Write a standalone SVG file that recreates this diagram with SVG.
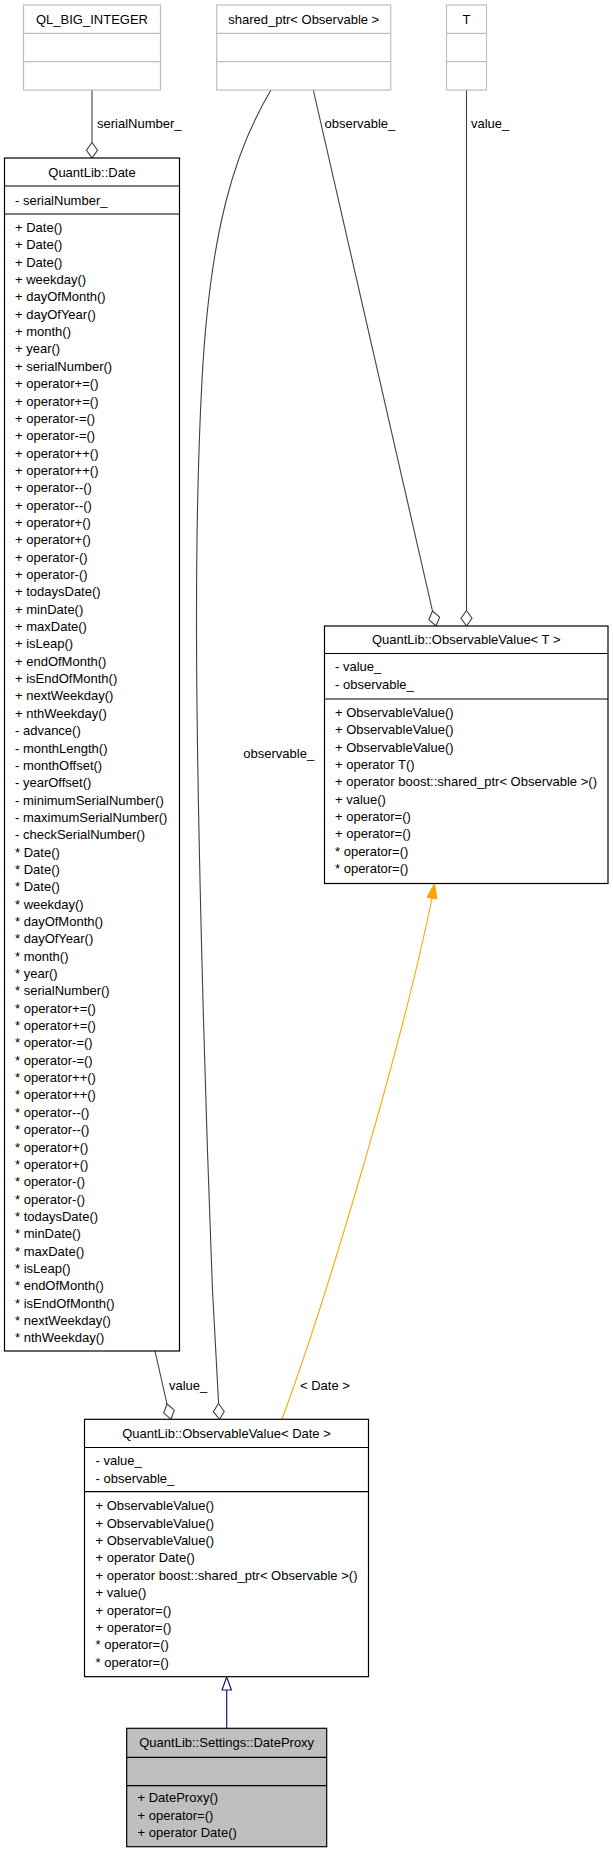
<svg xmlns="http://www.w3.org/2000/svg" width="613" height="1853" viewBox="0 0 613 1853">
<style>
.t{font-family:"Liberation Sans",Arial,Helvetica,sans-serif;font-size:13px;fill:#000}
.c{text-anchor:middle}
.bx{fill:#fff;stroke:#000;stroke-width:1.2}
.gx{fill:#fff;stroke:#bfbfbf;stroke-width:1.2}
.px{fill:#bfbfbf;stroke:#000;stroke-width:1.2}
.sl{stroke:#000;stroke-width:1.2}
.gl{stroke:#bfbfbf;stroke-width:1.2}
.e{fill:none;stroke:#404040;stroke-width:1.1}
.d{fill:#fff;stroke:#404040;stroke-width:1.1}
.o{fill:none;stroke:#ffa500;stroke-width:1.1}
.oa{fill:#ffa500;stroke:#ffa500;stroke-width:1}
.n{fill:none;stroke:#191970;stroke-width:1.2}
.na{fill:#fff;stroke:#191970;stroke-width:1.2}
</style>
<rect width="613" height="1853" fill="#fff"/>

<g id="edges">
  <!-- QL_BIG_INTEGER -> Date -->
  <line class="e" x1="92" y1="90" x2="92" y2="142.5"/>
  <polygon class="d" points="92,142.5 97.5,150.3 92,158 86.5,150.3"/>
  <text class="t" x="97" y="128">serialNumber_</text>
  <!-- shared_ptr -> ObservableValue<T> -->
  <line class="e" x1="313.3" y1="90" x2="432.5" y2="611"/>
  <polygon class="d" points="432.5,611 439.6,617.2 436,626 428.9,619.7"/>
  <text class="t" x="324.5" y="128">observable_</text>
  <!-- T -> ObservableValue<T> -->
  <line class="e" x1="466.5" y1="90" x2="466.5" y2="610.5"/>
  <polygon class="d" points="466.5,610.5 472,618.2 466.5,626 461,618.2"/>
  <text class="t" x="471" y="128">value_</text>
  <!-- shared_ptr -> ObservableValue<Date> -->
  <path class="e" d="M271,90 C235,150 210,230 202,380 C194,530 196,700 200,880 C204,1060 209,1200 212.5,1290 L218.6,1403.5"/>
  <polygon class="d" points="218.6,1403.5 224.2,1411.5 219.5,1419.3 213.3,1411.6"/>
  <text class="t" x="243.3" y="758">observable_</text>
  <!-- Date -> ObservableValue<Date> -->
  <line class="e" x1="155" y1="1351" x2="167" y2="1404"/>
  <polygon class="d" points="167,1404 174.3,1410.1 171,1419.3 163.7,1412.9"/>
  <text class="t" x="169" y="1389.5">value_</text>
  <!-- ObservableValue<T> -> ObservableValue<Date> (template instance) -->
  <path class="o" d="M282,1419.3 C326,1300 401,1050 432,898"/>
  <polygon class="oa" points="434.5,883.5 436.9,898.9 427.1,897.2"/>
  <text class="t" x="300" y="1389.5">&lt; Date &gt;</text>
  <!-- ObservableValue<Date> -> DateProxy (inheritance) -->
  <line class="n" x1="226.7" y1="1690" x2="226.7" y2="1728.3"/>
  <polygon class="na" points="226.7,1677 231.4,1690 222,1690"/>
</g>

<g id="node-ql-big-integer">
  <rect class="gx" x="23.5" y="5" width="137" height="85"/>
  <line class="gl" x1="23.5" y1="33.3" x2="160.5" y2="33.3"/>
  <line class="gl" x1="23.5" y1="61.7" x2="160.5" y2="61.7"/>
  <text class="t c" x="92" y="23.7">QL_BIG_INTEGER</text>
</g>

<g id="node-shared-ptr">
  <rect class="gx" x="216.7" y="5" width="174" height="85"/>
  <line class="gl" x1="216.7" y1="33.3" x2="390.7" y2="33.3"/>
  <line class="gl" x1="216.7" y1="61.7" x2="390.7" y2="61.7"/>
  <text class="t c" x="303.7" y="23.7">shared_ptr&lt; Observable &gt;</text>
</g>

<g id="node-t">
  <rect class="gx" x="446.5" y="5" width="40" height="85"/>
  <line class="gl" x1="446.5" y1="33.3" x2="486.5" y2="33.3"/>
  <line class="gl" x1="446.5" y1="61.7" x2="486.5" y2="61.7"/>
  <text class="t c" x="466.5" y="23.7">T</text>
</g>

<g id="node-date">
  <rect class="bx" x="4.5" y="158" width="175" height="1193"/>
  <line class="sl" x1="4.5" y1="186" x2="179.5" y2="186"/>
  <line class="sl" x1="4.5" y1="214" x2="179.5" y2="214"/>
  <text class="t c" x="92" y="176.5">QuantLib::Date</text>
  <text class="t" x="15" y="204.5">- serialNumber_</text>
  <text class="t" x="15" y="232">
    <tspan x="15" dy="0">+ Date()</tspan>
    <tspan x="15" dy="17.35">+ Date()</tspan>
    <tspan x="15" dy="17.35">+ Date()</tspan>
    <tspan x="15" dy="17.35">+ weekday()</tspan>
    <tspan x="15" dy="17.35">+ dayOfMonth()</tspan>
    <tspan x="15" dy="17.35">+ dayOfYear()</tspan>
    <tspan x="15" dy="17.35">+ month()</tspan>
    <tspan x="15" dy="17.35">+ year()</tspan>
    <tspan x="15" dy="17.35">+ serialNumber()</tspan>
    <tspan x="15" dy="17.35">+ operator+=()</tspan>
    <tspan x="15" dy="17.35">+ operator+=()</tspan>
    <tspan x="15" dy="17.35">+ operator-=()</tspan>
    <tspan x="15" dy="17.35">+ operator-=()</tspan>
    <tspan x="15" dy="17.35">+ operator++()</tspan>
    <tspan x="15" dy="17.35">+ operator++()</tspan>
    <tspan x="15" dy="17.35">+ operator--()</tspan>
    <tspan x="15" dy="17.35">+ operator--()</tspan>
    <tspan x="15" dy="17.35">+ operator+()</tspan>
    <tspan x="15" dy="17.35">+ operator+()</tspan>
    <tspan x="15" dy="17.35">+ operator-()</tspan>
    <tspan x="15" dy="17.35">+ operator-()</tspan>
    <tspan x="15" dy="17.35">+ todaysDate()</tspan>
    <tspan x="15" dy="17.35">+ minDate()</tspan>
    <tspan x="15" dy="17.35">+ maxDate()</tspan>
    <tspan x="15" dy="17.35">+ isLeap()</tspan>
    <tspan x="15" dy="17.35">+ endOfMonth()</tspan>
    <tspan x="15" dy="17.35">+ isEndOfMonth()</tspan>
    <tspan x="15" dy="17.35">+ nextWeekday()</tspan>
    <tspan x="15" dy="17.35">+ nthWeekday()</tspan>
    <tspan x="15" dy="17.35">- advance()</tspan>
    <tspan x="15" dy="17.35">- monthLength()</tspan>
    <tspan x="15" dy="17.35">- monthOffset()</tspan>
    <tspan x="15" dy="17.35">- yearOffset()</tspan>
    <tspan x="15" dy="17.35">- minimumSerialNumber()</tspan>
    <tspan x="15" dy="17.35">- maximumSerialNumber()</tspan>
    <tspan x="15" dy="17.35">- checkSerialNumber()</tspan>
    <tspan x="15" dy="17.35">* Date()</tspan>
    <tspan x="15" dy="17.35">* Date()</tspan>
    <tspan x="15" dy="17.35">* Date()</tspan>
    <tspan x="15" dy="17.35">* weekday()</tspan>
    <tspan x="15" dy="17.35">* dayOfMonth()</tspan>
    <tspan x="15" dy="17.35">* dayOfYear()</tspan>
    <tspan x="15" dy="17.35">* month()</tspan>
    <tspan x="15" dy="17.35">* year()</tspan>
    <tspan x="15" dy="17.35">* serialNumber()</tspan>
    <tspan x="15" dy="17.35">* operator+=()</tspan>
    <tspan x="15" dy="17.35">* operator+=()</tspan>
    <tspan x="15" dy="17.35">* operator-=()</tspan>
    <tspan x="15" dy="17.35">* operator-=()</tspan>
    <tspan x="15" dy="17.35">* operator++()</tspan>
    <tspan x="15" dy="17.35">* operator++()</tspan>
    <tspan x="15" dy="17.35">* operator--()</tspan>
    <tspan x="15" dy="17.35">* operator--()</tspan>
    <tspan x="15" dy="17.35">* operator+()</tspan>
    <tspan x="15" dy="17.35">* operator+()</tspan>
    <tspan x="15" dy="17.35">* operator-()</tspan>
    <tspan x="15" dy="17.35">* operator-()</tspan>
    <tspan x="15" dy="17.35">* todaysDate()</tspan>
    <tspan x="15" dy="17.35">* minDate()</tspan>
    <tspan x="15" dy="17.35">* maxDate()</tspan>
    <tspan x="15" dy="17.35">* isLeap()</tspan>
    <tspan x="15" dy="17.35">* endOfMonth()</tspan>
    <tspan x="15" dy="17.35">* isEndOfMonth()</tspan>
    <tspan x="15" dy="17.35">* nextWeekday()</tspan>
    <tspan x="15" dy="17.35">* nthWeekday()</tspan>
  </text>
</g>

<g id="node-observablevalue-t">
  <rect class="bx" x="324.5" y="626" width="283.5" height="257.5"/>
  <line class="sl" x1="324.5" y1="653.5" x2="608" y2="653.5"/>
  <line class="sl" x1="324.5" y1="699" x2="608" y2="699"/>
  <text class="t c" x="466.2" y="644">QuantLib::ObservableValue&lt; T &gt;</text>
  <text class="t" x="335" y="671.3">
    <tspan x="335" dy="0">- value_</tspan>
    <tspan x="335" dy="17.35">- observable_</tspan>
  </text>
  <text class="t" x="335" y="716.8">
    <tspan x="335" dy="0">+ ObservableValue()</tspan>
    <tspan x="335" dy="17.35">+ ObservableValue()</tspan>
    <tspan x="335" dy="17.35">+ ObservableValue()</tspan>
    <tspan x="335" dy="17.35">+ operator T()</tspan>
    <tspan x="335" dy="17.35">+ operator boost::shared_ptr&lt; Observable &gt;()</tspan>
    <tspan x="335" dy="17.35">+ value()</tspan>
    <tspan x="335" dy="17.35">+ operator=()</tspan>
    <tspan x="335" dy="17.35">+ operator=()</tspan>
    <tspan x="335" dy="17.35">* operator=()</tspan>
    <tspan x="335" dy="17.35">* operator=()</tspan>
  </text>
</g>

<g id="node-observablevalue-date">
  <rect class="bx" x="84.5" y="1419.3" width="284" height="257.4"/>
  <line class="sl" x1="84.5" y1="1447.5" x2="368.5" y2="1447.5"/>
  <line class="sl" x1="84.5" y1="1491.7" x2="368.5" y2="1491.7"/>
  <text class="t c" x="226.5" y="1437.9">QuantLib::ObservableValue&lt; Date &gt;</text>
  <text class="t" x="95.5" y="1465.3">
    <tspan x="95.5" dy="0">- value_</tspan>
    <tspan x="95.5" dy="17.35">- observable_</tspan>
  </text>
  <text class="t" x="95.5" y="1510.4">
    <tspan x="95.5" dy="0">+ ObservableValue()</tspan>
    <tspan x="95.5" dy="17.35">+ ObservableValue()</tspan>
    <tspan x="95.5" dy="17.35">+ ObservableValue()</tspan>
    <tspan x="95.5" dy="17.35">+ operator Date()</tspan>
    <tspan x="95.5" dy="17.35">+ operator boost::shared_ptr&lt; Observable &gt;()</tspan>
    <tspan x="95.5" dy="17.35">+ value()</tspan>
    <tspan x="95.5" dy="17.35">+ operator=()</tspan>
    <tspan x="95.5" dy="17.35">+ operator=()</tspan>
    <tspan x="95.5" dy="17.35">* operator=()</tspan>
    <tspan x="95.5" dy="17.35">* operator=()</tspan>
  </text>
</g>

<g id="node-dateproxy">
  <rect class="px" x="126.7" y="1728.3" width="200" height="118.4"/>
  <line class="sl" x1="126.7" y1="1757.3" x2="326.7" y2="1757.3"/>
  <line class="sl" x1="126.7" y1="1785.7" x2="326.7" y2="1785.7"/>
  <text class="t c" x="226.7" y="1747.3">QuantLib::Settings::DateProxy</text>
  <text class="t" x="137.5" y="1802.3">
    <tspan x="137.5" dy="0">+ DateProxy()</tspan>
    <tspan x="137.5" dy="17.35">+ operator=()</tspan>
    <tspan x="137.5" dy="17.35">+ operator Date()</tspan>
  </text>
</g>
</svg>
